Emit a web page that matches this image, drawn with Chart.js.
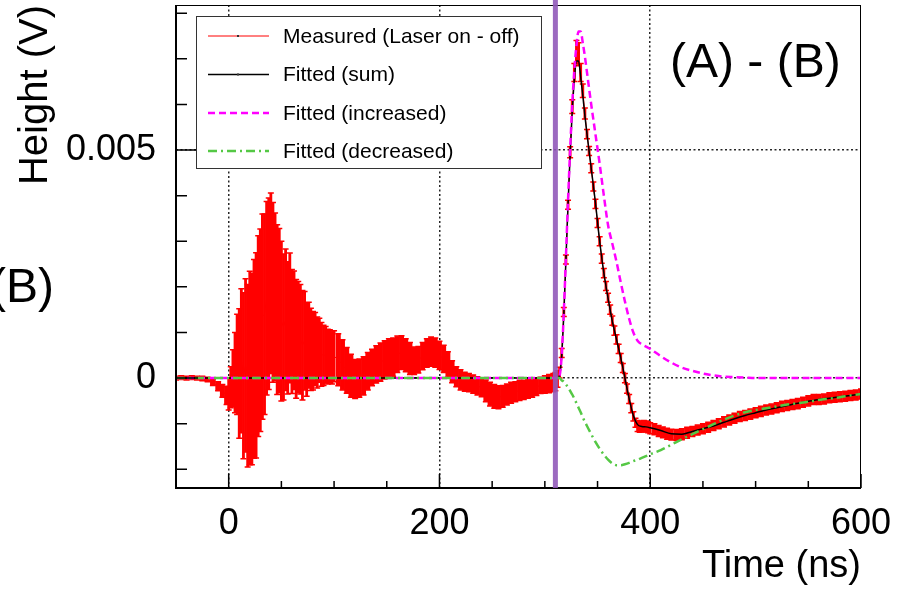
<!DOCTYPE html>
<html>
<head>
<meta charset="utf-8">
<title>(A) - (B)</title>
<script src="https://cdn.jsdelivr.net/npm/chart.js@4.4.1/dist/chart.umd.min.js"></script>
<style>
  html, body { margin: 0; padding: 0; background: #fff; }
  #wrap { width: 908px; height: 589px; }
</style>
</head>
<body>
<div id="wrap"><canvas id="waveChart" width="908" height="589"></canvas></div>
<script>
// Measured difference signal (time in ns, height in mV, error in mV)
const measT = [-50, -45, -40, -35, -30, -25, -20, -15, -10, -6, -2,
  0, 2, 4, 6, 8, 10, 12, 14, 16, 18, 20, 22, 24, 26, 28, 30, 32, 34, 36, 38,
  40, 42, 44, 46, 48, 50, 52, 54, 56, 58, 60, 62, 64, 66, 68, 70, 72, 74, 76, 78,
  80, 82, 84, 86, 88, 90, 92, 94, 96, 98, 100,
  104, 108, 112, 116, 120, 124, 128, 132, 136, 140, 144, 148, 152, 156, 160, 164, 168, 172, 176, 180,
  184, 188, 192, 196, 200, 204, 208, 212, 216, 220, 224, 228, 232, 236, 240, 244, 248, 252, 256, 260,
  264, 268, 272, 276, 280, 284, 288, 292, 296, 300, 304, 308,
  310, 312, 314, 316, 318, 320, 322, 324, 326, 328, 330, 332, 334, 336, 338, 340, 342, 344, 346, 348,
  350, 352, 354, 356, 358, 360, 362, 364, 366, 368, 370, 372, 374, 376, 378, 380, 382, 384, 386, 388,
  390, 392, 394, 396, 398, 400, 404, 408, 412, 416, 420,
  425, 430, 435, 440, 445, 450, 455, 460, 465, 470, 475, 480, 485, 490, 495, 500, 505, 510, 515, 520,
  525, 530, 535, 540, 545, 550, 555, 560, 565, 570, 575, 580, 585, 590, 595, 600];

const measMV = [0.0, 0.01, 0.0, 0.01, 0.0, -0.01, -0.03, -0.09, -0.18, -0.28, -0.38,
  -0.35, -0.2, 0.0, 0.12, 0.3, 0.1, 0.38, 0.05, 0.28, 0.05, 0.22, 0.2, 0.42, 0.5, 0.92, 1.05, 1.35, 1.4, 1.75, 1.85,
  2.08, 1.88, 1.78, 1.5, 1.48, 1.25, 1.12, 1.28, 1.1, 1.32, 1.02, 1.05, 0.86, 0.9, 0.85, 0.72, 0.82, 0.62, 0.72, 0.63,
  0.6, 0.64, 0.56, 0.61, 0.52, 0.5, 0.51, 0.47, 0.48, 0.45, 0.48,
  0.4, 0.29, 0.17, 0.05, -0.02, 0.0, 0.05, 0.15, 0.23, 0.3, 0.35, 0.4, 0.43, 0.46, 0.52, 0.56, 0.5, 0.43, 0.38, 0.4,
  0.48, 0.55, 0.58, 0.56, 0.5, 0.42, 0.3, 0.14, 0.03, -0.04, -0.08, -0.1, -0.13, -0.17, -0.21, -0.28, -0.35, -0.4, -0.42, -0.4,
  -0.36, -0.32, -0.3, -0.27, -0.26, -0.23, -0.22, -0.19, -0.16, -0.14, -0.12, -0.1,
  -0.08, -0.02, 0.12, 0.55, 1.45, 2.6, 3.8, 4.95, 5.95, 6.7, 7.15, 7.1, 6.7, 6.3, 5.8, 5.35, 4.98, 4.6, 4.2, 3.82,
  3.4, 3.0, 2.62, 2.3, 2.02, 1.76, 1.5, 1.26, 1.04, 0.85, 0.64, 0.44, 0.22, 0.0, -0.23, -0.46, -0.66, -0.84, -0.98, -1.05,
  -1.07, -1.06, -1.05, -1.06, -1.08, -1.1, -1.12, -1.16, -1.19, -1.22, -1.24,
  -1.25, -1.23, -1.2, -1.17, -1.14, -1.11, -1.08, -1.04, -1.0, -0.96, -0.92, -0.88, -0.84, -0.82, -0.79, -0.76, -0.73, -0.7, -0.68, -0.65,
  -0.62, -0.6, -0.58, -0.56, -0.53, -0.5, -0.47, -0.47, -0.46, -0.43, -0.42, -0.41, -0.4, -0.38, -0.37, -0.35];

const measErrMV = [0.04, 0.04, 0.04, 0.04, 0.04, 0.05, 0.05, 0.07, 0.1, 0.14, 0.2,
  0.35, 0.45, 0.62, 0.88, 1.1, 1.42, 1.58, 1.82, 1.9, 2.0, 2.12, 2.1, 2.18, 2.25, 2.2, 2.22, 2.25, 2.2, 2.12, 2.1,
  1.98, 1.97, 1.84, 1.86, 1.8, 1.75, 1.6, 1.55, 1.45, 1.42, 1.36, 1.3, 1.3, 1.22, 1.2, 1.2, 1.08, 1.02, 0.94, 0.9,
  0.86, 0.8, 0.78, 0.7, 0.7, 0.66, 0.62, 0.6, 0.58, 0.58, 0.56,
  0.57, 0.55, 0.5, 0.47, 0.43, 0.42, 0.42, 0.41, 0.4, 0.41, 0.42, 0.42, 0.43, 0.42, 0.4, 0.37, 0.36, 0.35, 0.3, 0.29,
  0.3, 0.31, 0.32, 0.32, 0.31, 0.3, 0.28, 0.24, 0.22, 0.22, 0.21, 0.2, 0.2, 0.2, 0.2, 0.24, 0.26, 0.26, 0.25, 0.24,
  0.23, 0.23, 0.22, 0.22, 0.21, 0.21, 0.2, 0.19, 0.18, 0.19, 0.2, 0.2,
  0.2, 0.18, 0.12, 0.1, 0.1, 0.1, 0.1, 0.12, 0.15, 0.2, 0.25, 0.25, 0.2, 0.15, 0.12, 0.1, 0.1, 0.1, 0.1, 0.1,
  0.1, 0.1, 0.1, 0.1, 0.1, 0.1, 0.1, 0.1, 0.1, 0.1, 0.1, 0.1, 0.1, 0.1, 0.1, 0.1, 0.1, 0.1, 0.1, 0.12,
  0.12, 0.12, 0.12, 0.12, 0.12, 0.12, 0.12, 0.12, 0.12, 0.12, 0.12,
  0.12, 0.12, 0.12, 0.11, 0.11, 0.11, 0.11, 0.11, 0.11, 0.11, 0.11, 0.11, 0.11, 0.11, 0.11, 0.11, 0.11, 0.11, 0.11, 0.11,
  0.11, 0.11, 0.11, 0.11, 0.11, 0.11, 0.11, 0.11, 0.11, 0.11, 0.11, 0.11, 0.11, 0.11, 0.11, 0.11];

// Fitted curves (mV) on their own time grid
const fitT = [-50, 300, 312, 314, 316, 318, 320, 322, 324, 326, 328, 330, 332, 334, 336, 338, 340,
  344, 348, 352, 356, 360, 364, 368, 372, 376, 380, 384, 388, 392, 396, 400,
  410, 420, 430, 440, 450, 460, 470, 480, 490, 500, 510, 520, 530, 540, 550, 560, 570, 580, 590, 600];

const sumMV = [0, 0, 0, 0.05, 0.5, 1.4, 2.6, 3.8, 4.9, 5.85, 6.55, 6.95, 6.95, 6.6, 6.2, 5.75, 5.35,
  4.6, 3.85, 3.0, 2.3, 1.75, 1.25, 0.85, 0.45, 0.0, -0.45, -0.82, -1.02, -1.06, -1.07, -1.09,
  -1.15, -1.22, -1.23, -1.17, -1.11, -1.05, -0.97, -0.89, -0.82, -0.76, -0.7, -0.65, -0.6, -0.55, -0.51, -0.47, -0.44, -0.41, -0.38, -0.35];

const incMV = [0, 0, 0, 0.05, 0.5, 1.45, 2.65, 3.9, 5.0, 6.0, 6.75, 7.3, 7.6, 7.6, 7.35, 7.05, 6.7,
  6.0, 5.35, 4.7, 4.0, 3.35, 2.95, 2.55, 2.1, 1.68, 1.3, 1.0, 0.82, 0.74, 0.69, 0.64,
  0.48, 0.34, 0.23, 0.16, 0.1, 0.06, 0.03, 0.02, 0.01, 0, 0, 0, 0, 0, 0, 0, 0, 0, 0, 0];

const decMV = [0, 0, 0, 0, -0.05, -0.08, -0.14, -0.2, -0.28, -0.36, -0.45, -0.55, -0.65, -0.75, -0.86, -0.96, -1.05,
  -1.23, -1.4, -1.55, -1.68, -1.79, -1.87, -1.91, -1.91, -1.89, -1.86, -1.82, -1.79, -1.75, -1.71, -1.67,
  -1.58, -1.46, -1.34, -1.23, -1.12, -1.01, -0.91, -0.82, -0.75, -0.7, -0.66, -0.62, -0.58, -0.55, -0.52, -0.48, -0.45, -0.42, -0.38, -0.35];

// Axes
const xTickVals = [-50, 0, 50, 100, 150, 200, 250, 300, 350, 400, 450, 500, 550, 600];
const xLabelVals = [0, 200, 400, 600];
const xGridVals = [0, 200, 400];
const yTickVals = [-0.002, -0.001, 0, 0.001, 0.002, 0.003, 0.004, 0.005, 0.006, 0.007, 0.008];
const yLabelVals = [0, 0.005];
const yLabelText = ['0', '0.005'];
const markerT = 310; // laser timing marker (ns)

const FONT = '"Liberation Sans", Arial, Helvetica, sans-serif';
Chart.defaults.font.family = FONT;
Chart.defaults.color = '#000';

const toPts = (ts, vs) => ts.map((t, i) => ({ x: t, y: vs[i] / 1000 }));

// Error bars for the measured series; bar width follows the point spacing so the band looks filled
const errorBars = {
  id: 'errorBars',
  afterDatasetDraw(chart, args) {
    if (args.index !== 0) return;
    const { ctx, chartArea: a, scales: { x, y } } = chart;
    ctx.save();
    ctx.beginPath();
    ctx.rect(a.left, a.top, a.right - a.left, a.bottom - a.top);
    ctx.clip();
    ctx.strokeStyle = '#ff0000';
    measT.forEach((t, i) => {
      const px = x.getPixelForValue(t);
      const prev = i > 0 ? x.getPixelForValue(measT[i - 1]) : px - 5;
      const gap = Math.min(px - prev, 5);
      const lo = y.getPixelForValue((measMV[i] - measErrMV[i]) / 1000);
      const hi = y.getPixelForValue((measMV[i] + measErrMV[i]) / 1000);
      ctx.lineWidth = Math.max(1.5, gap + 0.7);
      ctx.beginPath();
      ctx.moveTo(px, lo); ctx.lineTo(px, hi);
      ctx.stroke();
      ctx.lineWidth = 1.5;
      ctx.beginPath();
      ctx.moveTo(px - 3, lo); ctx.lineTo(px + 3, lo);
      ctx.moveTo(px - 3, hi); ctx.lineTo(px + 3, hi);
      ctx.stroke();
    });
    ctx.restore();
  }
};

// Frame, inward ticks, marker line, labels and legend box
const decorations = {
  id: 'decorations',
  afterDraw(chart) {
    const { ctx, chartArea: a, scales: { x, y } } = chart;
    ctx.save();

    // frame
    ctx.strokeStyle = '#000';
    ctx.lineWidth = 1;
    ctx.strokeRect(a.left + 0.5, a.top + 0.5, a.right - a.left - 1, a.bottom - a.top);
    ctx.lineWidth = 2;
    ctx.beginPath();
    ctx.moveTo(a.left, a.top); ctx.lineTo(a.left, a.bottom); ctx.lineTo(a.right, a.bottom);
    ctx.stroke();

    // ticks pointing inward
    ctx.lineWidth = 1.5;
    ctx.beginPath();
    x.ticks.forEach(tk => {
      const px = x.getPixelForValue(tk.value);
      const len = xLabelVals.includes(tk.value) ? 14 : 7;
      ctx.moveTo(px, a.bottom); ctx.lineTo(px, a.bottom - len);
    });
    y.ticks.forEach(tk => {
      const py = y.getPixelForValue(tk.value);
      const len = yLabelVals.includes(tk.value) ? 22 : 11;
      ctx.moveTo(a.left, py); ctx.lineTo(a.left + len, py);
    });
    ctx.stroke();

    // laser timing marker
    const mx = x.getPixelForValue(markerT);
    ctx.strokeStyle = 'rgba(145,90,185,0.9)';
    ctx.lineWidth = 5;
    ctx.beginPath();
    ctx.moveTo(mx, 0); ctx.lineTo(mx, a.bottom);
    ctx.stroke();

    // panel labels
    ctx.fillStyle = '#000';
    ctx.font = '48px ' + FONT;
    ctx.textBaseline = 'alphabetic';
    ctx.textAlign = 'left';
    ctx.fillText('(A) - (B)', 670, 77);
    ctx.textAlign = 'right';
    ctx.fillText('(B)', 54, 302);

    // legend
    const lx = 196, ly = 16, lw = 345, lh = 152;
    ctx.fillStyle = '#fff';
    ctx.fillRect(lx, ly, lw, lh);
    ctx.strokeStyle = '#333';
    ctx.lineWidth = 1;
    ctx.strokeRect(lx + 0.5, ly + 0.5, lw, lh);
    const rowY = [36, 74.5, 113, 151];
    ctx.font = '21px ' + FONT;
    ctx.textAlign = 'left';
    ctx.textBaseline = 'middle';
    chart.data.datasets.forEach((ds, i) => {
      const ry = rowY[i];
      ctx.strokeStyle = ds.borderColor;
      ctx.lineWidth = ds.borderWidth;
      ctx.setLineDash(ds.borderDash || []);
      ctx.beginPath();
      ctx.moveTo(208, ry); ctx.lineTo(269, ry);
      ctx.stroke();
      ctx.setLineDash([]);
      if (i < 2) {
        ctx.fillStyle = '#333';
        ctx.fillRect(237, ry - 1, 2, 2);
      }
      ctx.fillStyle = '#000';
      ctx.fillText(ds.label, 283, ry + 1);
    });
    ctx.restore();
  }
};

const ctx = document.getElementById('waveChart').getContext('2d');
const myChart = new Chart(ctx, {
  type: 'line',
  data: {
    datasets: [{
      label: 'Measured (Laser on - off)',
      data: toPts(measT, measMV),
      borderColor: '#ff0000',
      borderWidth: 1,
      pointRadius: 0,
      order: 4
    }, {
      label: 'Fitted (sum)',
      data: toPts(fitT, sumMV),
      borderColor: '#000000',
      borderWidth: 1.5,
      pointRadius: 0,
      cubicInterpolationMode: 'monotone',
      order: 3
    }, {
      label: 'Fitted (increased)',
      data: toPts(fitT, incMV),
      borderColor: '#ff00ff',
      borderWidth: 2.5,
      borderDash: [7, 4],
      pointRadius: 0,
      cubicInterpolationMode: 'monotone',
      order: 2
    }, {
      label: 'Fitted (decreased)',
      data: toPts(fitT, decMV),
      borderColor: '#55c845',
      borderWidth: 2.5,
      borderDash: [9, 4, 2, 4],
      pointRadius: 0,
      cubicInterpolationMode: 'monotone',
      order: 1
    }]
  },
  options: {
    responsive: false,
    animation: false,
    devicePixelRatio: 1,
    layout: { padding: { top: 5, right: 47, left: 0, bottom: 0 } },
    plugins: {
      legend: { display: false },
      tooltip: { enabled: false }
    },
    scales: {
      x: {
        type: 'linear',
        min: -50,
        max: 600,
        afterBuildTicks: s => { s.ticks = xTickVals.map(v => ({ value: v })); },
        afterFit: s => { s.height = 101; s.paddingLeft = 0; s.paddingRight = 0; },
        ticks: {
          autoSkip: false,
          maxRotation: 0,
          padding: 14,
          font: { size: 36 },
          callback: v => xLabelVals.includes(v) ? String(v) : ''
        },
        grid: {
          drawTicks: false,
          lineWidth: 1.5,
          color: c => (c.tick && xGridVals.includes(c.tick.value)) ? 'rgba(0,0,0,0.85)' : 'rgba(0,0,0,0)'
        },
        border: { display: false, dash: [2, 2.5] },
        title: { display: true, text: 'Time (ns)', align: 'end', font: { size: 38 }, padding: { top: 0, bottom: 0 } }
      },
      y: {
        type: 'linear',
        min: -0.00241,
        max: 0.00818,
        afterBuildTicks: s => { s.ticks = yTickVals.map(v => ({ value: v })); },
        afterFit: s => { s.width = 176; s.paddingTop = 0; s.paddingBottom = 0; },
        ticks: {
          autoSkip: false,
          padding: 20,
          font: { size: 36 },
          callback: v => { const k = yLabelVals.indexOf(v); return k >= 0 ? yLabelText[k] : ''; }
        },
        grid: {
          drawTicks: false,
          lineWidth: 1.5,
          color: c => (c.tick && yLabelVals.includes(c.tick.value)) ? 'rgba(0,0,0,0.85)' : 'rgba(0,0,0,0)'
        },
        border: { display: false, dash: [2, 2.5] },
        title: { display: true, text: 'Height (V)', align: 'end', font: { size: 40 }, padding: { top: 12, bottom: 0 } }
      }
    }
  },
  plugins: [errorBars, decorations]
});
</script>
</body>
</html>
